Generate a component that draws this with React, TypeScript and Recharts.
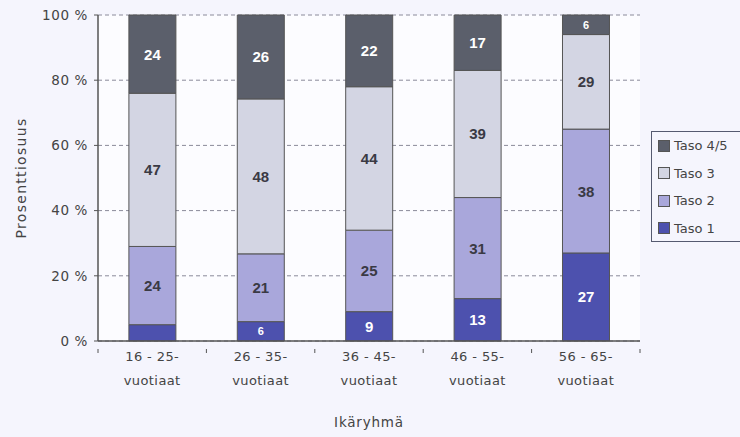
import React from 'react';
import { BarChart, Bar, XAxis, YAxis, CartesianGrid, LabelList } from 'recharts';

const categories = ['16 - 25-vuotiaat', '26 - 35-vuotiaat', '36 - 45-vuotiaat', '46 - 55-vuotiaat', '56 - 65-vuotiaat'];
const tickLine1 = ['16 - 25-', '26 - 35-', '36 - 45-', '46 - 55-', '56 - 65-'];
const tickLine2 = ['vuotiaat', 'vuotiaat', 'vuotiaat', 'vuotiaat', 'vuotiaat'];
const taso1 = [5, 6, 9, 13, 27];
const taso2 = [24, 21, 25, 31, 38];
const taso3 = [47, 48, 44, 39, 29];
const taso45 = [24, 26, 22, 17, 6];
const yTicks = [0, 0.2, 0.4, 0.6, 0.8, 1];

const series = [
  { key: 'taso1', name: 'Taso 1', color: '#4d51ae', text: '#ffffff' },
  { key: 'taso2', name: 'Taso 2', color: '#a9a7db', text: '#3a3a44' },
  { key: 'taso3', name: 'Taso 3', color: '#d3d5e3', text: '#3a3a44' },
  { key: 'taso45', name: 'Taso 4/5', color: '#5b5f6b', text: '#ffffff' },
];

const data = categories.map((c, i) => ({
  name: c,
  taso1: taso1[i],
  taso2: taso2[i],
  taso3: taso3[i],
  taso45: taso45[i],
}));

const FONT = '"DejaVu Sans", sans-serif';

const makeLabel = (textColor: string) => (props: any) => {
  const { x, y, width, height, value } = props;
  if (height < 18) return null;
  const small = height < 22;
  return (
    <text
      x={x + width / 2}
      y={y + height / 2}
      textAnchor="middle"
      dominantBaseline="central"
      fill={textColor}
      fontFamily='"Liberation Sans", Arial, sans-serif'
      fontWeight="bold"
      fontSize={small ? 11 : 15}
    >
      {value}
    </text>
  );
};

const XTick = (props: any) => {
  const { x, y, index } = props;
  const half = 54.2;
  return (
    <g>
      <line x1={x - half} y1={y} x2={x - half} y2={y + 4} stroke="#555" />
      {index === categories.length - 1 && (
        <line x1={x + half} y1={y} x2={x + half} y2={y + 4} stroke="#555" />
      )}
      <text x={x} y={y + 12} textAnchor="middle" fill="#444" fontFamily={FONT} fontSize={13} letterSpacing={0.4}>
        {tickLine1[index]}
      </text>
      <text x={x} y={y + 36} textAnchor="middle" fill="#444" fontFamily={FONT} fontSize={13} letterSpacing={0.4}>
        {tickLine2[index]}
      </text>
    </g>
  );
};

const LegendBox = () => (
  <div
    style={{
      position: 'absolute',
      left: 651,
      top: 131,
      border: '1px solid #555a70',
      background: 'transparent',
      width: 100,
      height: 111,
      boxSizing: 'border-box',
      padding: '0px 0 0 6px',
      fontFamily: FONT,
      fontSize: 13,
      color: '#444',
    }}
  >
    {[...series].reverse().map((s) => (
      <div key={s.key} style={{ display: 'flex', alignItems: 'center', height: 27.5 }}>
        <span
          style={{
            display: 'inline-block',
            width: 10,
            height: 10,
            background: s.color,
            border: '1px solid #555',
            marginRight: 4,
          }}
        />
        <span style={{ whiteSpace: 'nowrap' }}>{s.name}</span>
      </div>
    ))}
  </div>
);

export default function App() {
  return (
    <div
      style={{
        position: 'absolute',
        left: 0,
        top: 0,
        width: 740,
        height: 437,
        background: '#f5f5fd',
        overflow: 'hidden',
      }}
    >
      <BarChart
        width={740}
        height={437}
        data={data}
        stackOffset="expand"
        barCategoryGap="28.5%"
        margin={{ top: 15, right: 100, bottom: 0, left: 38 }}
      >
        <CartesianGrid
          vertical={false}
          stroke="#8a8a9a"
          strokeDasharray="4 3"
          fill="#fcfcff"
        />
        <XAxis
          dataKey="name"
          axisLine={{ stroke: '#555', strokeWidth: 1.5 }}
          tickLine={false}
          tick={<XTick />}
          interval={0}
          height={96}
        />
        <YAxis
          domain={[0, 1]}
          ticks={yTicks}
          tickFormatter={(v: number) => `${Math.round(v * 100)} %`}
          axisLine={{ stroke: '#555', strokeWidth: 1.5 }}
          tickLine={{ stroke: '#555' }}
          tickSize={4}
          tickMargin={6}
          width={60}
          tick={{ fill: '#444', fontFamily: FONT, fontSize: 13.5, letterSpacing: 0.6 } as any}
          label={() => (
            <text
              x={21}
              y={178}
              transform="rotate(-90 21 178)"
              textAnchor="middle"
              dominantBaseline="central"
              fill="#444"
              fontFamily={FONT}
              fontSize={14}
              letterSpacing={1.3}
            >
              Prosenttiosuus
            </text>
          )}
        />
        <YAxis
          yAxisId="right"
          orientation="right"
          width={0}
          tick={false}
          tickLine={false}
          axisLine={{ stroke: '#8a8aaa', strokeDasharray: '4 3' }}
        />
        {series.map((s) => (
          <Bar
            key={s.key}
            dataKey={s.key}
            name={s.name}
            stackId="a"
            fill={s.color}
            stroke="#555"
            strokeWidth={1}
            isAnimationActive={false}
          >
            <LabelList dataKey={s.key} content={makeLabel(s.text)} />
          </Bar>
        ))}
        <text x={369} y={422} textAnchor="middle" dominantBaseline="central" fill="#444" fontFamily={FONT} fontSize={13.5} letterSpacing={0.8}>
          Ikäryhmä
        </text>
      </BarChart>
      <LegendBox />
    </div>
  );
}
